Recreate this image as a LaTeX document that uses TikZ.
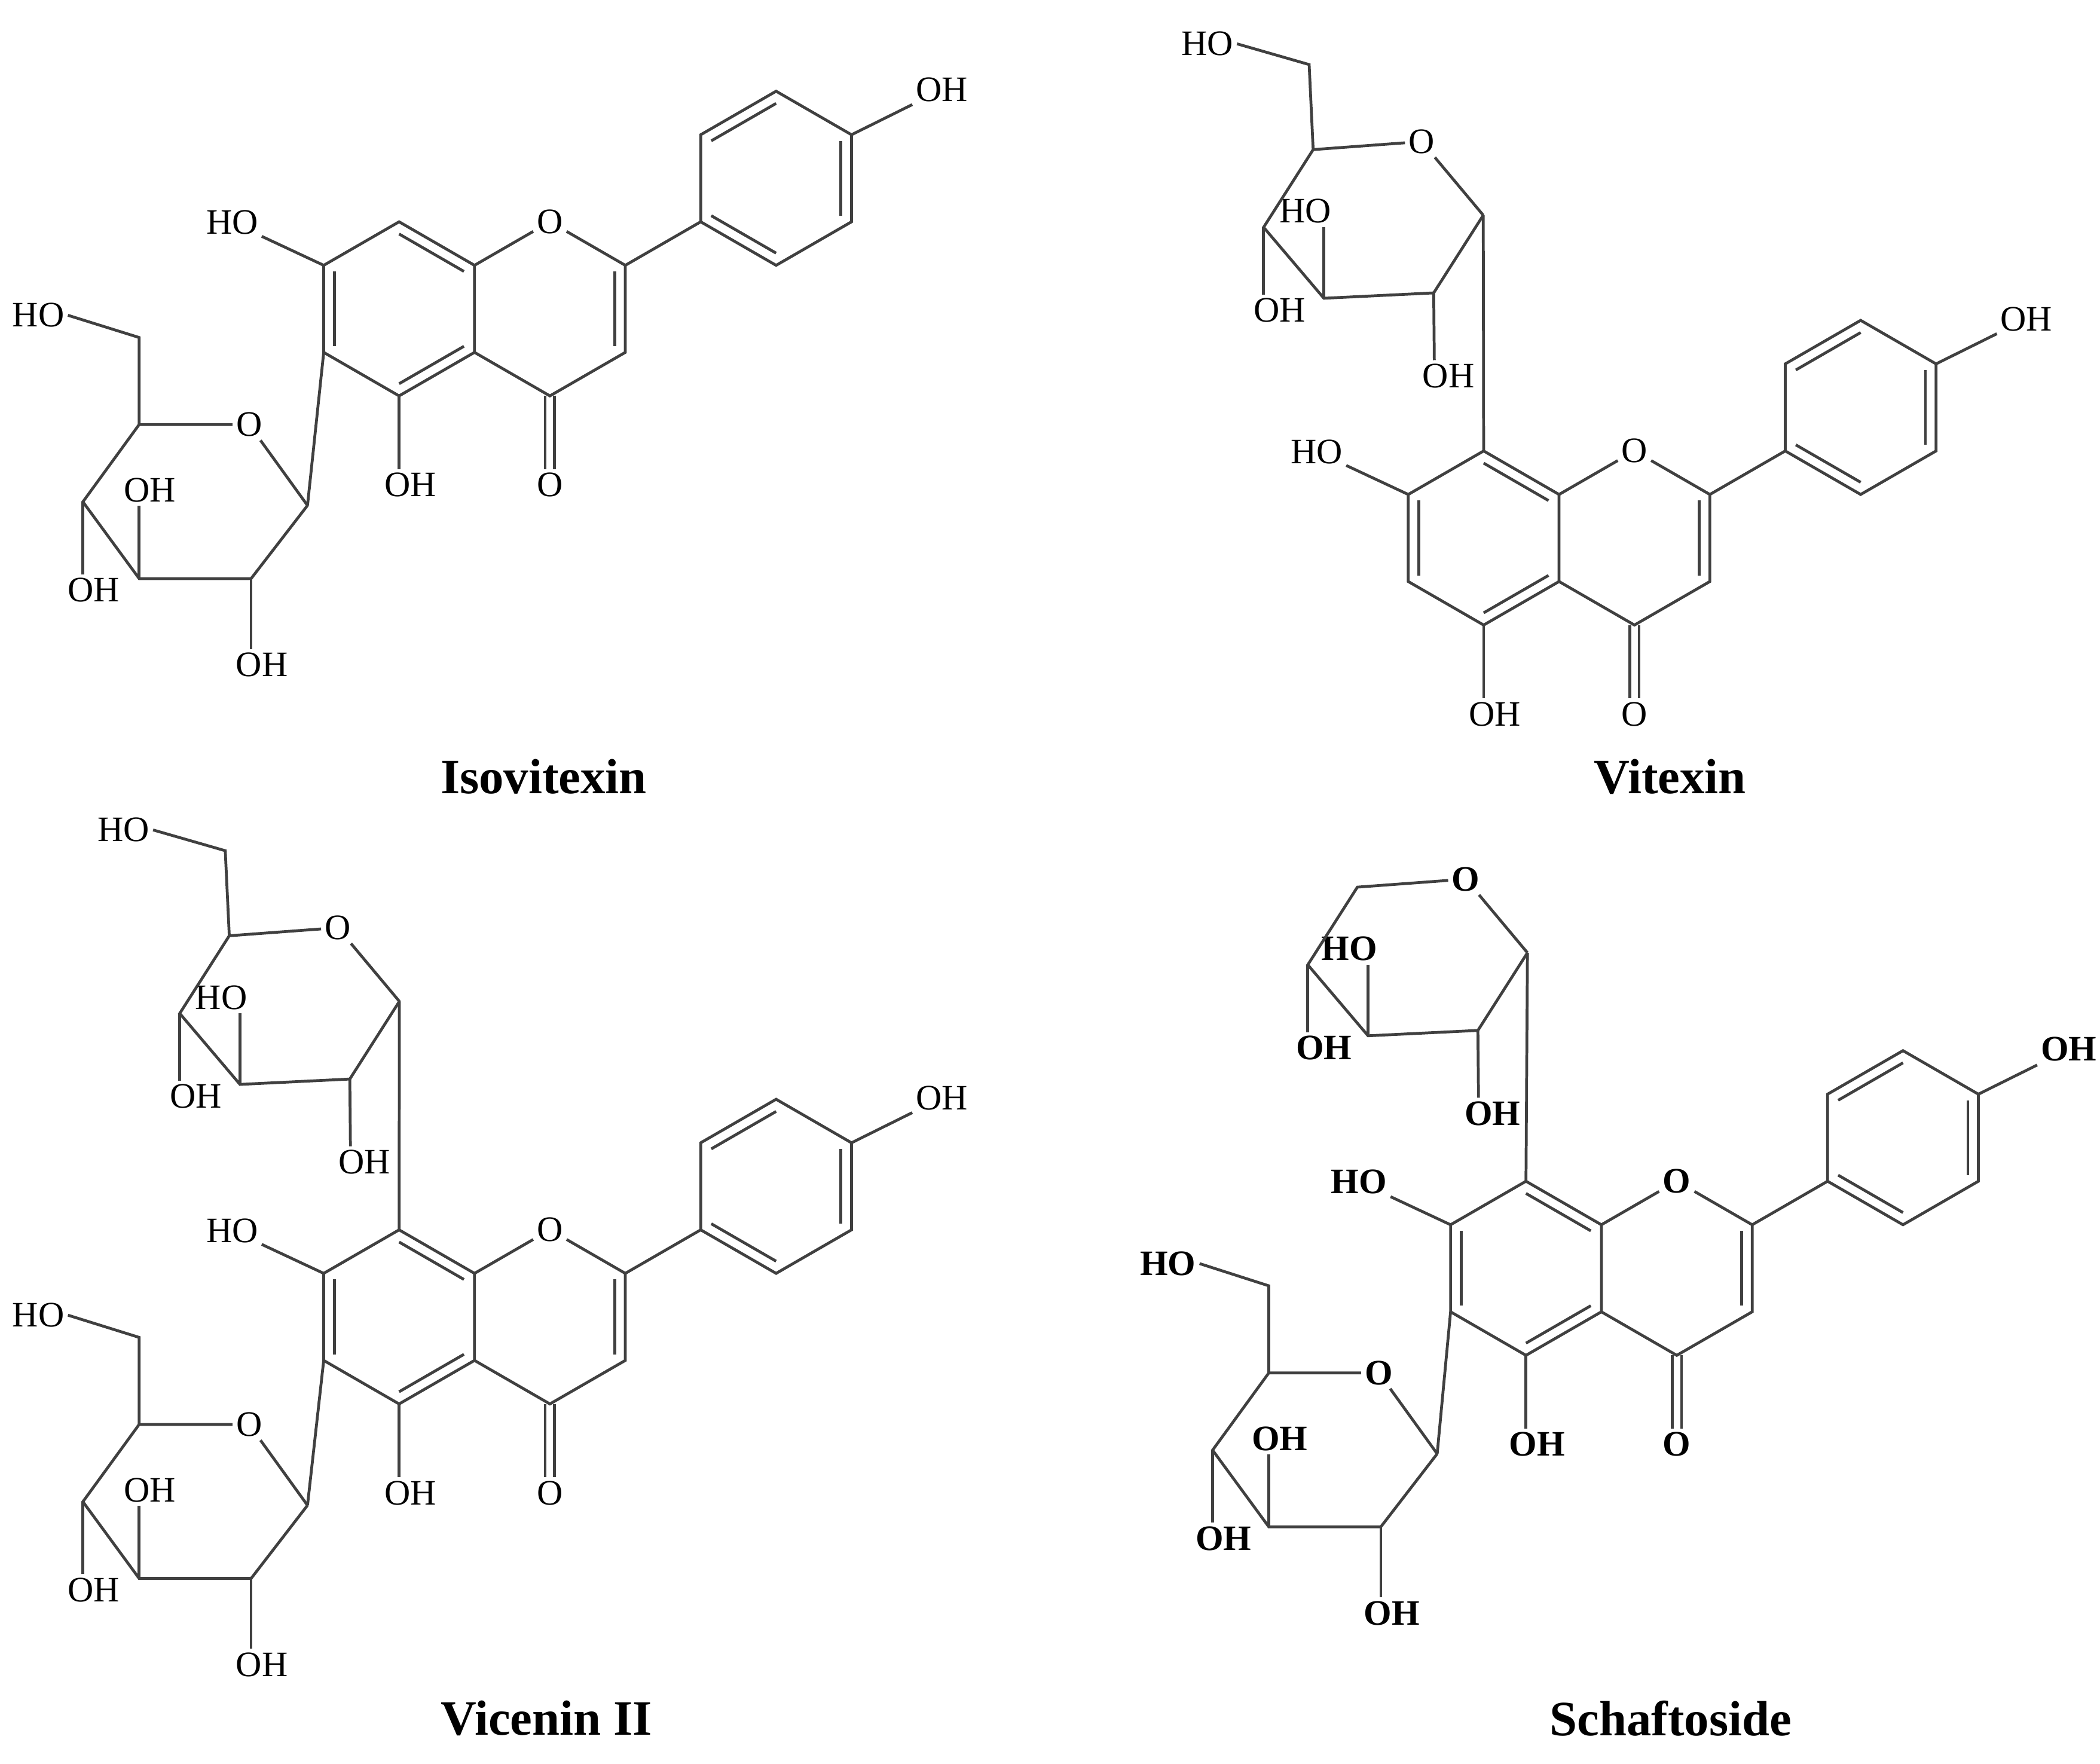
\documentclass[tikz,border=0pt]{standalone}
\usepackage{fontspec}
\setmainfont{Liberation Serif}
\usetikzlibrary{calc}
\tikzset{
  bond/.style={draw=black!75, line width=0.6pt},
  atom/.style={inner sep=0.6pt, font=\fontsize{7.6}{8}\selectfont, text=black},
  batom/.style={atom, font=\fontsize{7.6}{8}\selectfont\bfseries},
  title/.style={font=\fontsize{10.5}{12}\selectfont\bfseries},
}
\newcommand\inner[3]{\draw[bond] ($(#1)!.14!(#3)$) -- ($(#2)!.14!(#3)$);}
\newcommand\flav[4]{%
\begin{scope}[shift={(#2,#3)}]
\coordinate (#1a8) at (0,0);
\coordinate (#1c8) at (-56.3,-32.5);
\coordinate (#1c7) at (-112.6,0);
\coordinate (#1c6) at (-112.6,65);
\coordinate (#1c5) at (-56.3,97.5);
\coordinate (#1a4) at (0,65);
\coordinate (#1c2) at (112.6,0);
\coordinate (#1c3) at (112.6,65);
\coordinate (#1c4) at (56.3,97.5);
\coordinate (#1ca) at (-56.3,32.5);
\coordinate (#1cc) at (56.3,32.5);
\coordinate (#1b1) at (168.9,-32.5);
\coordinate (#1b2) at (168.9,-97.5);
\coordinate (#1b3) at (225.2,-130);
\coordinate (#1b4) at (281.5,-97.5);
\coordinate (#1b5) at (281.5,-32.5);
\coordinate (#1b6) at (225.2,0);
\coordinate (#1cb) at (225.2,-65);
\node[#4] (#1o1) at (56.3,-32.5) {O};
\node[#4] (#1o4) at (56.3,164) {O};
\node[#4] (#1oh) at (349,-131) {OH};
\node[#4] (#1ho7) at (-181,-32) {HO};
\node[#4] (#1oh5) at (-48,164) {OH};
\end{scope}
\draw[bond] (#1a8)--(#1c8)--(#1c7)--(#1c6)--(#1c5)--(#1a4)--cycle;
\draw[bond] (#1a8)--(#1o1)--(#1c2)--(#1c3)--(#1c4)--(#1a4);
\draw[bond] (#1c2)--(#1b1);
\draw[bond] (#1b1)--(#1b2)--(#1b3)--(#1b4)--(#1b5)--(#1b6)--cycle;
\draw[bond] (#1b4)--(#1oh);
\draw[bond] (#1c7)--(#1ho7);
\draw[bond] (#1c5)--(#1c5 |- #1oh5.north);
\draw[bond] ($(#1c4)+(-3.5,0)$)--($(#1c4 |- #1o4.north)+(-3.5,0)$);
\draw[bond] ($(#1c4)+(3.5,0)$)--($(#1c4 |- #1o4.north)+(3.5,0)$);
\inner{#1c8}{#1a8}{#1ca}
\inner{#1c7}{#1c6}{#1ca}
\inner{#1c5}{#1a4}{#1ca}
\inner{#1c2}{#1c3}{#1cc}
\inner{#1b2}{#1b3}{#1cb}
\inner{#1b4}{#1b5}{#1cb}
\inner{#1b6}{#1b1}{#1cb}
}
% glucose at C6: #1 prefix, #2,#3 = C1'', #4 atom style
\newcommand\glcA[4]{%
\begin{scope}[shift={(#2,#3)}]
\coordinate (#1s1) at (0,0);
\node[#4] (#1so) at (-43.6,-60.4) {O};
\coordinate (#1s5) at (-125.7,-60.4);
\coordinate (#1s6) at (-125.7,-125.4);
\node[#4] (#1sho6) at (-201,-142) {HO};
\coordinate (#1s4) at (-167.7,-2.7);
\coordinate (#1s3) at (-125.7,54.6);
\coordinate (#1s2) at (-42.1,54.6);
\node[#4] (#1soh2) at (-34,119) {OH};
\node[#4] (#1soh3) at (-117.6,-11.4) {OH};
\node[#4] (#1soh4) at (-159.6,63.2) {OH};
\end{scope}
\draw[bond] (#1s1)--(#1so)--(#1s5)--(#1s4)--(#1s3)--(#1s2)--(#1s1);
\draw[bond] (#1s5)--(#1s6)--(#1sho6.east);
\draw[bond] (#1s2)--(#1s2 |- #1soh2.north);
\draw[bond] (#1s3)--(#1s3 |- #1soh3.south);
\draw[bond] (#1s4)--(#1s4 |- #1soh4.north);
}
% sugar at C8: #1 prefix, #2,#3 = C1'', #4 atom style, #5 = 1 if CH2OH
\newcommand\glcB[5]{%
\begin{scope}[shift={(#2,#3)}]
\coordinate (#1s1) at (0,0);
\node[#4] (#1so) at (-46,-55) {O};
\coordinate (#1s5) at (-127,-49);
\coordinate (#1s4) at (-164,9);
\coordinate (#1s3) at (-119,62);
\coordinate (#1s2) at (-37,58);
\node[#4] (#1soh2) at (-26,120) {OH};
\node[#4] (#1soh3) at (-133,-3) {HO};
\node[#4] (#1soh4) at (-152,71) {OH};
\ifnum#5=1
\coordinate (#1s6) at (-130,-112.5);
\node[#4] (#1sho6) at (-206,-128) {HO};
\fi
\end{scope}
\draw[bond] (#1s1)--(#1so)--(#1s5)--(#1s4)--(#1s3)--(#1s2)--(#1s1);
\ifnum#5=1 \draw[bond] (#1s5)--(#1s6)--(#1sho6.east); \fi
\draw[bond] (#1s2)--([xshift=-3pt]#1soh2.north);
\draw[bond] (#1s3)--(#1s3 |- #1soh3.south);
\draw[bond] (#1s4)--(#1s4 |- #1soh4.north);
}
\begin{document}
\begin{tikzpicture}[x=0.01cm,y=-0.01cm]
\useasboundingbox (0,0) rectangle (1568,1317);
% Isovitexin
\flav{I}{354.3}{198.1}{atom}
\glcA{IA}{229.6}{377.4}{atom}
\draw[bond] (Ic6)--(IAs1);
\node[title] (tI) at (406,580) {Isovitexin};
% Vitexin
\flav{V}{1164.1}{369.2}{atom}
\glcB{VB}{1107.5}{160.7}{atom}{1}
\draw[bond] (Vc8)--(VBs1);
\node[title] (tV) at (1247,580) {Vitexin};
% Vicenin II
\flav{W}{354.3}{950.8}{atom}
\glcB{WB}{298.2}{747.7}{atom}{1}
\draw[bond] (Wc8)--(WBs1);
\glcA{WA}{229.6}{1124}{atom}
\draw[bond] (Wc6)--(WAs1);
\node[title] (tW) at (408,1283) {Vicenin II};
% Schaftoside
\flav{S}{1195.7}{914.5}{batom}
\glcB{SB}{1140.5}{711.4}{batom}{0}
\draw[bond] (Sc8)--(SBs1);
\glcA{SA}{1073.1}{1085.5}{batom}
\draw[bond] (Sc6)--(SAs1);
\node[title] (tS) at (1247.5,1283) {Schaftoside};
\end{tikzpicture}
\end{document}
